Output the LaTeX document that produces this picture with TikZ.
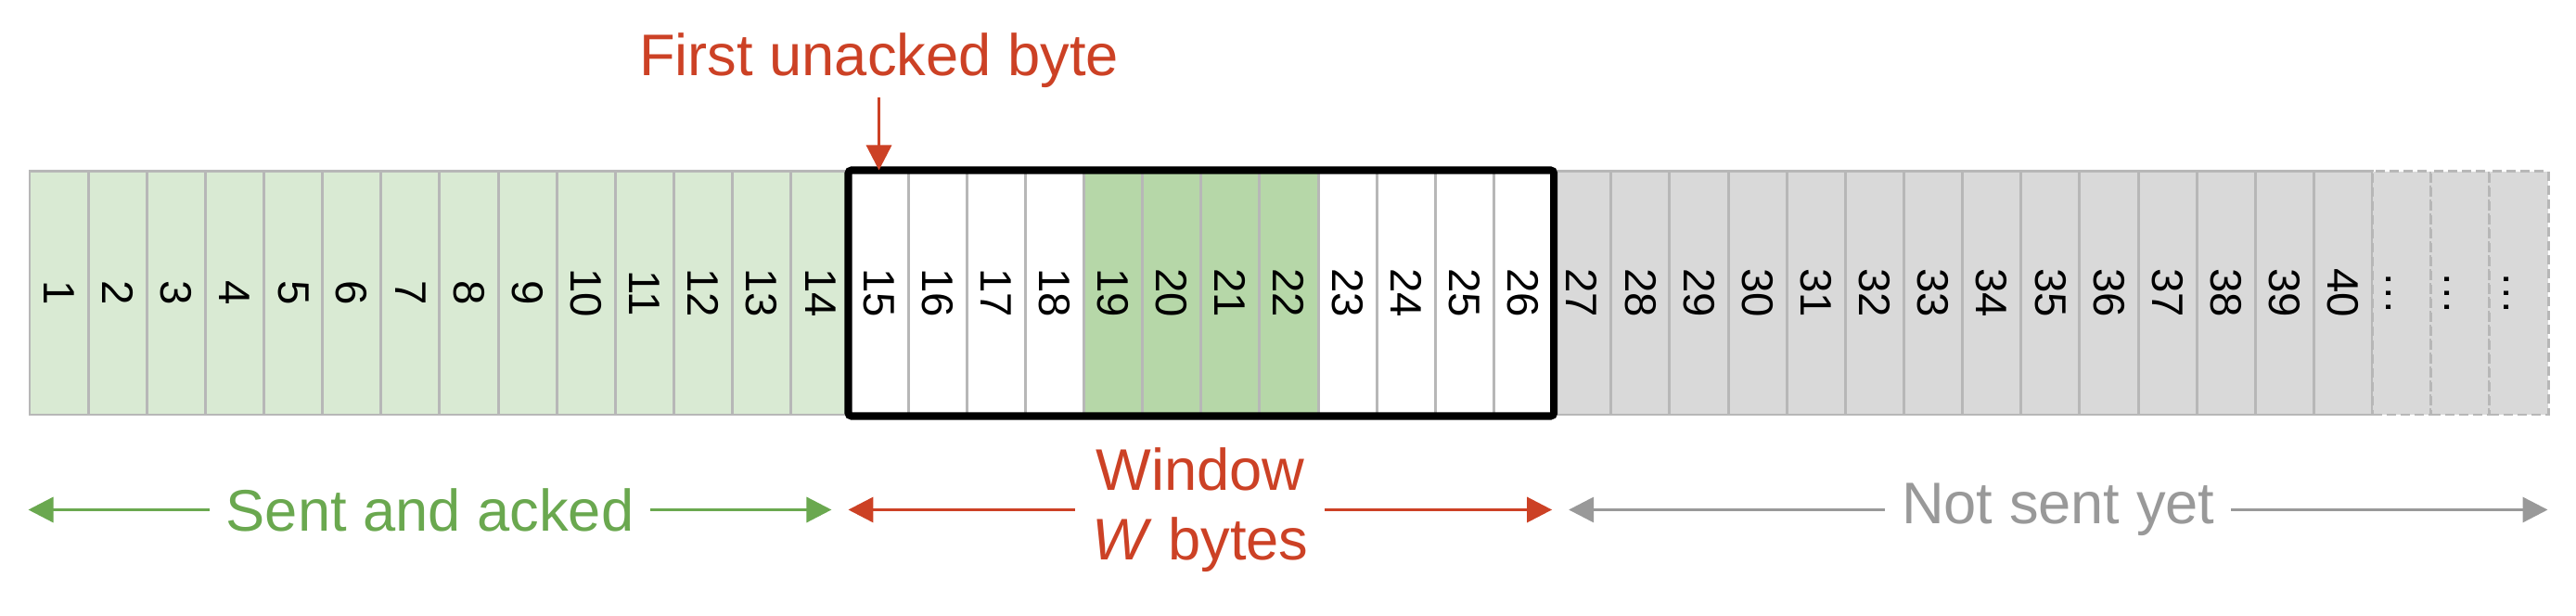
\documentclass[tikz,border=0pt]{standalone}
\usepackage{fontspec}
\setmainfont{Liberation Sans}
\usepackage{graphicx}
\usepackage{xcolor}
\usepackage{tikz}
\usetikzlibrary{positioning, arrows.meta}
\definecolor{ackgreen}{HTML}{D9EAD3}
\definecolor{ackdark}{HTML}{B6D7A8}
\definecolor{notgray}{HTML}{D9D9D9}
\definecolor{cellgray}{HTML}{B7B7B7}
\definecolor{redberry}{HTML}{CC4125}
\definecolor{sentgreen}{HTML}{6AA84F}
\definecolor{waitgray}{HTML}{999999}
\tikzstyle{cell}=[draw=cellgray, rectangle, line width=0.85pt, minimum width=0.6314cm, minimum height=2.62cm, inner sep=0pt, font=\fontsize{13.5}{16}\selectfont]
\tikzstyle{line}=[draw, line width=0.95pt, {Triangle[length=0.27cm,width=0.27cm]}-{Triangle[length=0.27cm,width=0.27cm]}]
\tikzstyle{spanlabel}=[fill=white, inner xsep=5pt, align=center, font=\fontsize{18}{21.5}\selectfont]
\tikzstyle{window}=[draw, line width=2.3pt, rounded corners=1pt]
\def\num#1{\rotatebox{-90}{#1}}

\begin{document}
\begin{tikzpicture}
		\useasboundingbox (0,0) rectangle (27.77,6.64);
		\foreach \i in {1,...,14}
			\node[cell, fill=ackgreen] (c\i) at ({0.32+(\i-0.5)*0.6314},3.48) {\num{\i}};
		\foreach \i in {15,16,17,18,23,24,25,26}
			\node[cell, fill=white] (c\i) at ({0.32+(\i-0.5)*0.6314},3.48) {\num{\i}};
		\foreach \i in {19,...,22}
			\node[cell, fill=ackdark] (c\i) at ({0.32+(\i-0.5)*0.6314},3.48) {\num{\i}};
		\foreach \i in {27,...,40}
			\node[cell, fill=notgray] (c\i) at ({0.32+(\i-0.5)*0.6314},3.48) {\num{\i}};
		\foreach \i in {41,42,43}
			\node[cell, fill=notgray, dash pattern=on 0.1cm off 0.05cm] (c\i) at ({0.32+(\i-0.5)*0.6314},3.48) {\num{\vphantom{0}…}};
		\draw[window] (c15.north west) rectangle (c26.south east);
		\node[above=0.78cm of c15, inner sep=3pt, text=redberry, font=\fontsize{18}{21.5}\selectfont] (first) {First unacked byte};
		\draw[draw=redberry, line width=0.95pt, -{Triangle[length=0.27cm,width=0.27cm]}] (first) -- (c15);
		\coordinate[below=1.01cm of c1.south west] (sentL);
		\coordinate[below=1.01cm of c14.south east, xshift=-0.21cm] (sentR);
		\coordinate[below=1.01cm of c15.south west] (winL);
		\coordinate[below=1.01cm of c26.south east, xshift=-0.02cm] (winR);
		\coordinate[below=1.01cm of c27.south west, xshift=0.19cm] (notL);
		\coordinate[below=1.01cm of c43.south east, xshift=-0.02cm] (notR);
		\draw[line, draw=sentgreen] (sentL) -- node[spanlabel, text=sentgreen]{Sent and acked} (sentR);
		\draw[line, draw=redberry] (winL) -- node[spanlabel, text=redberry]{Window\\\textit{W} bytes} (winR);
		\draw[line, draw=waitgray] (notL) -- node[spanlabel, text=waitgray]{Not sent yet} (notR);
	\end{tikzpicture}
\end{document}
